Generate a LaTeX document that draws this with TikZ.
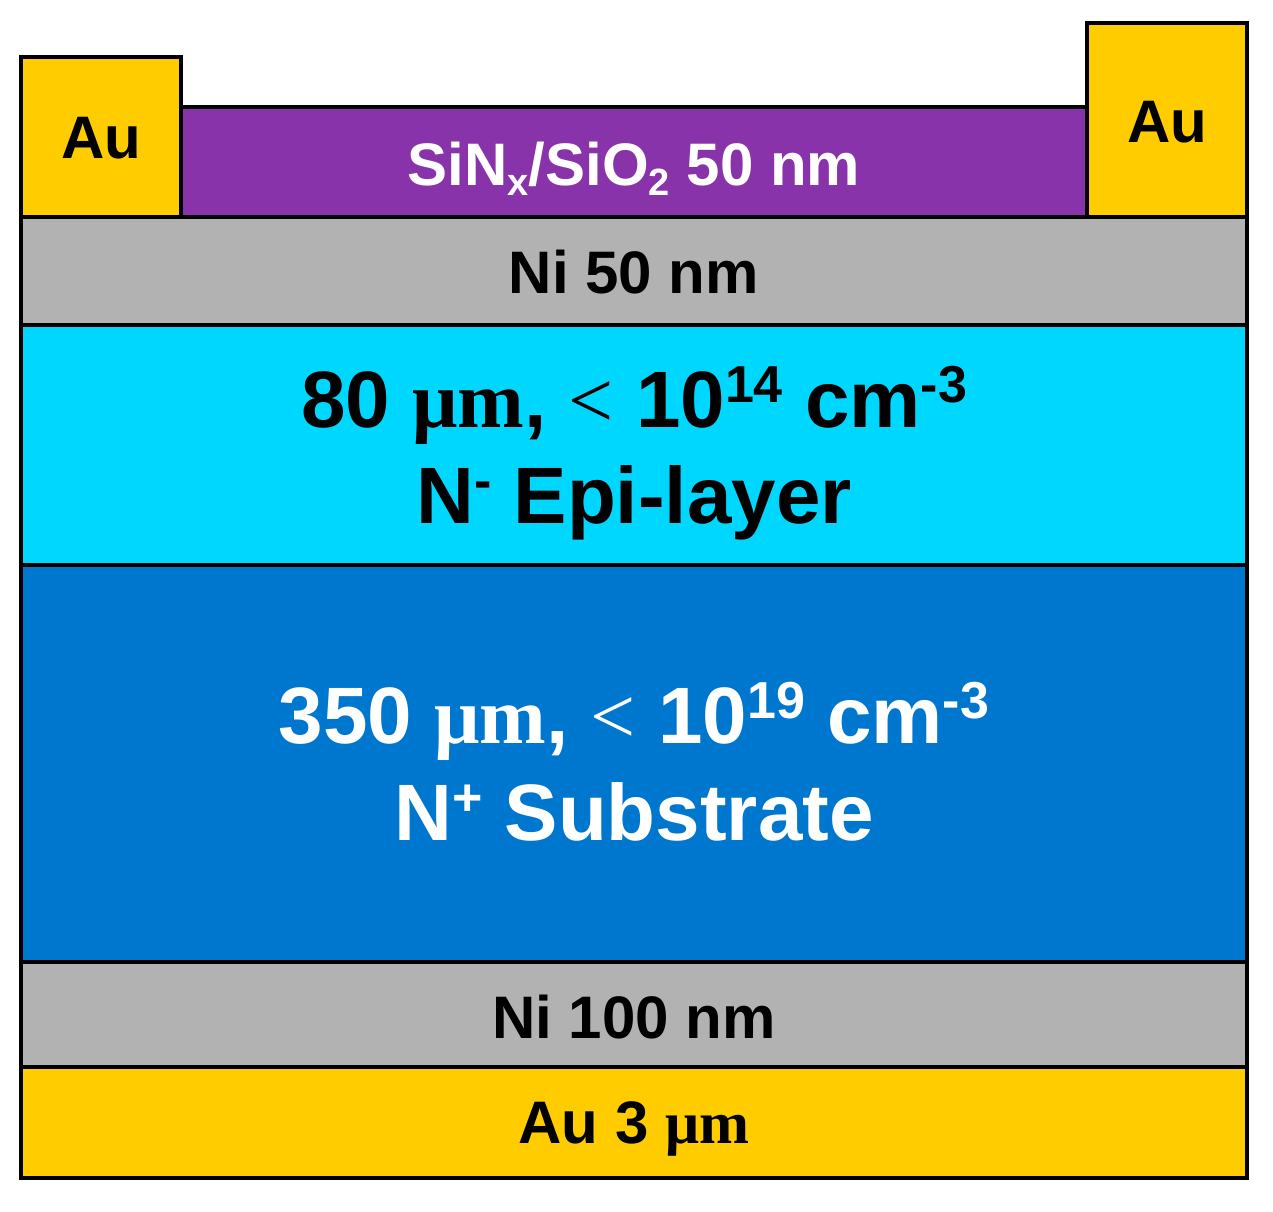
\documentclass[tikz,border=0pt]{standalone}
\usepackage{fontspec}
\setmainfont{Liberation Sans}
\newfontfamily\tms{Liberation Serif}
\definecolor{auY}{RGB}{255,204,0}
\definecolor{oxP}{RGB}{136,51,170}
\definecolor{niG}{RGB}{178,178,178}
\definecolor{epiC}{RGB}{0,215,255}
\definecolor{subB}{RGB}{0,119,206}
\newcommand\bigsup[1]{\raisebox{25pt}{\fontsize{52}{52}\selectfont #1}}
\newcommand\smsub[1]{\raisebox{-10pt}{\fontsize{38}{38}\selectfont #1}}
\begin{document}
\begin{tikzpicture}[x=1pt,y=-1pt,
  layer/.style={draw=black, line width=4pt, inner sep=0pt, outer sep=0pt, anchor=north west},
  smalltxt/.style={anchor=base, inner sep=0pt, font=\fontsize{60}{72}\selectfont\bfseries},
  bigtxt/.style={anchor=base, inner sep=0pt, font=\fontsize{80}{96}\selectfont\bfseries}]
\useasboundingbox (0,0) rectangle (1273,1211);
% layers
\node[layer, fill=auY, minimum width=160pt, minimum height=160pt] (auL) at (21,57) {};
\node[layer, fill=auY, minimum width=160pt, minimum height=194pt] (auR) at (1087,23) {};
\node[layer, fill=oxP, minimum width=906pt, minimum height=110pt] (ox) at (181,107) {};
\node[layer, fill=niG, minimum width=1226pt, minimum height=108pt] (niT) at (21,217) {};
\node[layer, fill=epiC, minimum width=1226pt, minimum height=240pt] (epi) at (21,325) {};
\node[layer, fill=subB, minimum width=1226pt, minimum height=397pt] (sub) at (21,565) {};
\node[layer, fill=niG, minimum width=1226pt, minimum height=105pt] (niB) at (21,962) {};
\node[layer, fill=auY, minimum width=1226pt, minimum height=111pt] (auB) at (21,1067) {};
% texts
\node[smalltxt] (tAuL) at (101,158) {Au};
\node[smalltxt] (tAuR) at (1167,142) {Au};
\node[smalltxt, text=white] (tOx) at (634,185) {SiN\smsub{x}/SiO\smsub{2} 50 nm};
\node[smalltxt] (tNiT) at (634,293) {Ni 50 nm};
\node[bigtxt] (tEpi1) at (634,427) {80 {\tms μm}, {\tms\mdseries <} 10\bigsup{14} cm\bigsup{-3}};
\node[bigtxt] (tEpi2) at (634,523) {N\bigsup{-} Epi-layer};
\node[bigtxt, text=white] (tSub1) at (634,743) {350 {\tms μm}, {\tms\mdseries <} 10\bigsup{19} cm\bigsup{-3}};
\node[bigtxt, text=white] (tSub2) at (634,840) {N\bigsup{+} Substrate};
\node[smalltxt] (tNiB) at (634,1038) {Ni 100 nm};
\node[smalltxt] (tAuB) at (634,1143) {Au 3 {\tms μm}};
\end{tikzpicture}
\end{document}
